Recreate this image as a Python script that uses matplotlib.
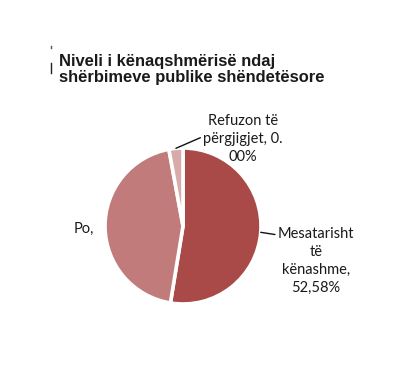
import numpy as np
import matplotlib
matplotlib.use('Agg')
import matplotlib.pyplot as plt
from matplotlib.lines import Line2D

# data
categories = ['Mesatarisht\ntë\nkënashme,\n52,58%', 'Po,', 'Refuzon të\npërgjigjet, 0.\n00%']
shares = [52.58, 44.52, 2.90]
colors = ['#AA4A48', '#C17B7B', '#D9AAAA']
title = 'Niveli i kënaqshmërisë ndaj\nshërbimeve publike shëndetësore'

W, H = 393, 379
fig = plt.figure(figsize=(W / 100, H / 100), dpi=100)

# pie axes placed by pixel box (centre 183,226 radius 78, top-left origin)
cx, cy, r = 183, 226, 78
ax = fig.add_axes([(cx - r) / W, (H - cy - r) / H, 2 * r / W, 2 * r / H])
wedges, _ = ax.pie(shares, colors=colors, startangle=90, counterclock=False,
                   radius=1, wedgeprops=dict(edgecolor='white', linewidth=2.6))
ax.set_xlim(-1, 1)
ax.set_ylim(-1, 1)
ax.set_aspect('equal')
ax.axis('off')

label_font = dict(family=['Lato', 'DejaVu Sans'], fontsize=10.5, color='#1a1a1a',
                  ha='center', va='center', linespacing=1.38)

# label positions in figure pixels (top-left origin), leader flag
label_pos = [(316, 261, True), (84, 229, False), (243, 139, True)]
for w, lab, (tx, ty, lead) in zip(wedges, categories, label_pos):
    mid = np.deg2rad((w.theta1 + w.theta2) / 2)
    edge = (np.cos(mid), np.sin(mid))
    if lead:
        ax.annotate(lab, xy=edge, xycoords='data',
                    xytext=(tx, H - ty), textcoords='figure pixels',
                    arrowprops=dict(arrowstyle='-', color='#111111', lw=1.0,
                                    shrinkA=0, shrinkB=0,
                                    relpos=(0.0, 0.55 if lab.startswith('Refuzon') else 0.88)),
                    annotation_clip=False, **label_font)
    else:
        fig.text(tx / W, 1 - ty / H, lab, **label_font)

fig.text(59 / W, 1 - 54 / H, title, ha='left', va='top',
         family=['Liberation Sans', 'DejaVu Sans'], fontsize=11.9, fontweight='bold',
         color='#1a1a1a', linespacing=1.08)

# small stray marks left of the title
fig.add_artist(Line2D([51 / W, 51 / W], [1 - 63 / H, 1 - 73 / H], color='#222222', lw=1))
fig.add_artist(Line2D([51 / W, 51 / W], [1 - 46 / H, 1 - 48 / H], color='#555555', lw=1))

fig.savefig('out.png', dpi=100)
